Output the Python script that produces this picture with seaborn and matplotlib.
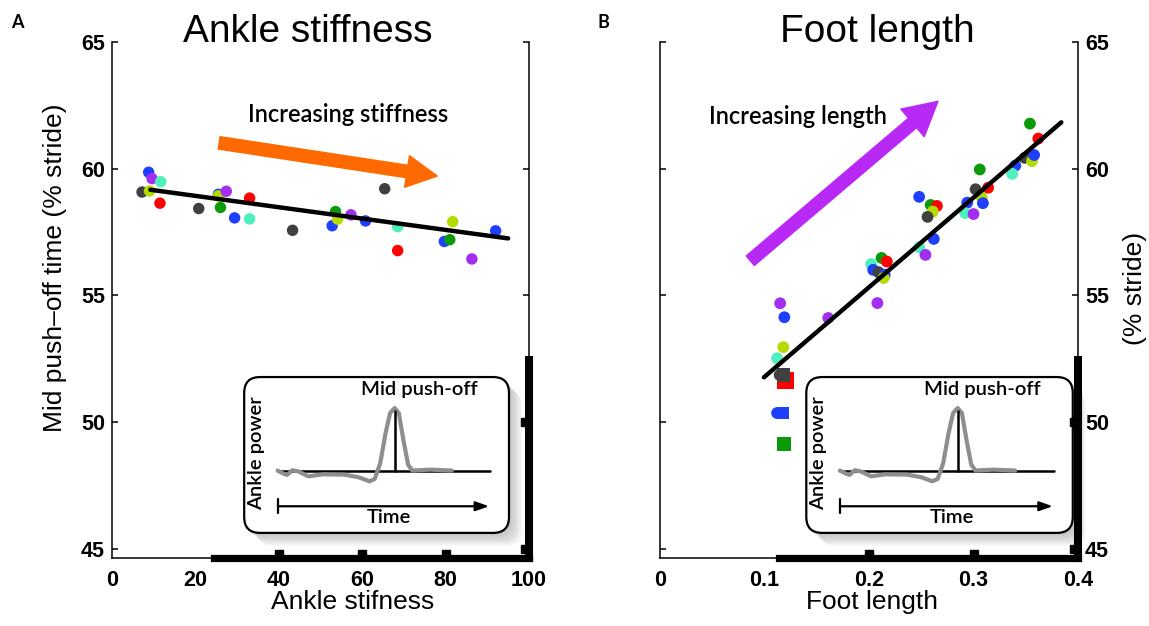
import numpy as np
import pandas as pd
import matplotlib
matplotlib.use("Agg")
import matplotlib.pyplot as plt
import matplotlib.transforms as mtrans
from matplotlib.patches import FancyBboxPatch
import seaborn as sns

# ---------------- data ----------------
stiff_x = [7.2, 8.8, 9.6, 9.0, 11.7, 11.5, 20.8, 26.0, 25.5, 25.5, 27.4, 29.4, 33.0, 33.0,
           43.3, 52.8, 53.6, 54.1, 57.3, 60.8, 65.4, 68.5, 68.5, 79.7, 81.0, 81.7, 86.3, 92.0]
stiff_y = [59.08, 59.86, 59.61, 59.12, 59.49, 58.64, 58.43, 58.47, 58.99, 58.93, 59.11, 58.06,
           58.02, 58.84, 57.57, 57.75, 58.31, 58.01, 58.18, 57.94, 59.21, 57.71, 56.77, 57.13,
           57.20, 57.91, 56.44, 57.55]
stiff_c = ['gray', 'blue', 'purple', 'yg', 'aqua', 'red', 'gray', 'green', 'blue', 'yg',
           'purple', 'blue', 'aqua', 'red', 'gray', 'blue', 'green', 'yg', 'purple', 'blue',
           'gray', 'aqua', 'red', 'blue', 'green', 'yg', 'purple', 'blue']
stiff_fit_x = [9.2, 95.0]
stiff_fit_y = [59.17, 57.25]

foot_x = [0.354, 0.362, 0.349, 0.356, 0.358, 0.340, 0.337, 0.306, 0.302, 0.314, 0.308, 0.309,
          0.294, 0.292, 0.300, 0.248, 0.259, 0.265, 0.261, 0.256, 0.262, 0.248, 0.254, 0.202,
          0.212, 0.217, 0.204, 0.209, 0.215, 0.214, 0.208, 0.115, 0.119, 0.161, 0.118, 0.112,
          0.1145, 0.112]
foot_y = [61.78, 61.19, 60.43, 60.30, 60.54, 60.12, 59.80, 59.97, 59.19, 59.25, 58.86, 58.64,
          58.66, 58.25, 58.21, 58.89, 58.57, 58.53, 58.31, 58.10, 57.23, 56.90, 56.60, 56.24,
          56.48, 56.34, 56.01, 55.92, 55.82, 55.69, 54.70, 54.69, 54.14, 54.11, 52.96, 52.52,
          51.86, 50.36]
foot_c = ['green', 'red', 'gray', 'yg', 'blue', 'blue', 'aqua', 'green', 'gray', 'red', 'yg',
          'blue', 'blue', 'aqua', 'purple', 'blue', 'green', 'red', 'yg', 'gray', 'blue', 'aqua',
          'purple', 'aqua', 'green', 'red', 'blue', 'gray', 'blue', 'yg', 'purple', 'purple',
          'blue', 'purple', 'yg', 'aqua', 'gray', 'blue']
foot_fit_x = [0.0995, 0.384]
foot_fit_y = [51.77, 61.83]

sq_x = [0.120, 0.118, 0.1177, 0.1187]
sq_y = [51.65, 51.86, 50.36, 49.14]
sq_c = ['red', 'gray', 'blue', 'green']
sq_s = [150, 95, 80, 115]

palette = {'gray': '#404040', 'blue': '#1f3fff', 'purple': '#a22ef0', 'yg': '#b4dc00',
           'aqua': '#4ff0bd', 'red': '#ff0000', 'green': '#0a9a0a'}

# inset sketch (normalised box coordinates)
inset_t = [0.126, 0.149, 0.162, 0.182, 0.203, 0.243, 0.297, 0.378, 0.432, 0.473, 0.493, 0.514,
           0.534, 0.551, 0.568, 0.584, 0.601, 0.619, 0.635, 0.703, 0.784]
inset_p = [0.400, 0.380, 0.372, 0.402, 0.395, 0.363, 0.376, 0.374, 0.357, 0.331, 0.346, 0.449,
           0.641, 0.769, 0.801, 0.769, 0.598, 0.438, 0.400, 0.406, 0.400]

# ---------------- style ----------------
sns.set_style("white")
plt.rcParams['font.family'] = ['Liberation Sans', 'DejaVu Sans']
plt.rcParams['axes.linewidth'] = 1.1
for key in ['text.color', 'axes.labelcolor', 'xtick.color', 'ytick.color', 'axes.edgecolor']:
    plt.rcParams[key] = 'black'
ANNOT_FONT = ['Lato', 'DejaVu Sans']
ANNOT_W = 'semibold'
MAIN_W = 'bold'

fig = plt.figure(figsize=(11.49, 6.26), dpi=100)
W, H = 1149, 626
axA = fig.add_axes([112 / W, 1 - 558 / H, 417 / W, 516 / H])
axB = fig.add_axes([660 / W, 1 - 558 / H, 418 / W, 516 / H])

YLIM = (44.64, 65)


def style_axes(ax, xlim, xticks, xticklabels, right_labels):
    ax.set_xlim(*xlim)
    ax.set_ylim(*YLIM)
    ax.set_xticks(xticks)
    ax.set_xticklabels(xticklabels, fontweight=MAIN_W)
    ax.set_yticks([45, 50, 55, 60, 65])
    ax.set_yticklabels(['45', '50', '55', '60', '65'], fontweight=MAIN_W)
    ax.spines['top'].set_visible(False)
    for s in ['left', 'right', 'bottom']:
        ax.spines[s].set_visible(True)
        ax.spines[s].set_color('black')
    ax.tick_params(axis='both', direction='in', length=4, width=1.1, colors='black',
                   labelsize=15.5)
    ax.tick_params(axis='x', pad=9)
    ax.tick_params(axis='y', left=True, right=True, pad=5,
                   labelleft=not right_labels, labelright=right_labels)
    ax.grid(False)


def thick_bars(ax, x0, y0, xticks_sq, yticks_sq):
    xt = ax.get_xaxis_transform()
    yt = ax.get_yaxis_transform()
    ax.plot([x0, ax.get_xlim()[1]], [0, 0], transform=xt, color='black', lw=5.2,
            solid_capstyle='projecting', clip_on=False, zorder=6)
    ax.plot([1, 1], [y0, YLIM[0]], transform=yt, color='black', lw=5.8,
            solid_capstyle='projecting', clip_on=False, zorder=6)
    up = mtrans.offset_copy(xt, fig=fig, y=4, units='dots')
    ax.plot(xticks_sq, [0] * len(xticks_sq), transform=up, ls='none', marker='s', ms=5.8,
            color='black', clip_on=False, zorder=6)
    left = mtrans.offset_copy(yt, fig=fig, x=-4, units='dots')
    ax.plot([1] * len(yticks_sq), yticks_sq, transform=left, ls='none', marker='s', ms=5.8,
            color='black', clip_on=False, zorder=6)


def add_inset(ax, bounds):
    ins = ax.inset_axes(bounds, transform=ax.transData, zorder=4)
    ins.set_xlim(0, 1)
    ins.set_ylim(0, 1)
    ins.axis('off')
    aspect = 265 / 156
    for k in range(1, 13):
        sh = FancyBboxPatch((k * 1.1 / 265, -k * 1.1 / 156), 1, 1,
                            boxstyle='round,pad=0,rounding_size=0.06', mutation_aspect=aspect,
                            fc='#8a8a8a', ec='none', alpha=0.05, transform=ins.transAxes,
                            clip_on=False, zorder=1)
        ins.add_patch(sh)
    box = FancyBboxPatch((0, 0), 1, 1, boxstyle='round,pad=0,rounding_size=0.06',
                         mutation_aspect=aspect, fc='white', ec='black', lw=1.6,
                         transform=ins.transAxes, clip_on=False, zorder=2)
    ins.add_patch(box)
    ins.plot([0.126, 0.928], [0.40, 0.40], color='black', lw=1.8, zorder=3)
    sns.lineplot(x=inset_t, y=inset_p, ax=ins, color='#8e8e8e', lw=3.0, sort=False,
                 estimator=None, zorder=4)
    ins.plot([0.568, 0.568], [0.40, 0.78], color='black', lw=1.8, zorder=5)
    ins.annotate('', xy=(0.925, 0.171), xytext=(0.128, 0.171),
                 arrowprops=dict(arrowstyle='-|>,head_width=0.28,head_length=0.8',
                                 color='black', lw=1.6, shrinkA=0, shrinkB=0), zorder=5)
    ins.plot([0.128, 0.128], [0.125, 0.218], color='black', lw=1.6, zorder=5)
    ins.text(0.547, 0.10, 'Time', ha='center', va='center', fontsize=14.5, family=ANNOT_FONT,
             fontweight=ANNOT_W)
    ins.text(0.045, 0.51, 'Ankle power', ha='center', va='center', rotation=90, fontsize=14.5,
             family=ANNOT_FONT, fontweight=ANNOT_W)
    ins.text(0.662, 0.92, 'Mid push-off', ha='center', va='center', fontsize=14.5,
             family=ANNOT_FONT, fontweight=ANNOT_W)
    return ins


# ---------------- panel A ----------------
dfA = pd.DataFrame({'x': stiff_x, 'y': stiff_y, 'c': stiff_c})
sns.scatterplot(data=dfA, x='x', y='y', hue='c', palette=palette, s=68, linewidth=0,
                legend=False, ax=axA, zorder=3)
sns.lineplot(x=stiff_fit_x, y=stiff_fit_y, ax=axA, color='black', lw=3.2, zorder=4)
style_axes(axA, (0, 100), [0, 20, 40, 60, 80, 100], ['0', '20', '40', '60', '80', '100'], False)
axA.set_xlabel('Ankle stifness', fontsize=19)
axA.set_ylabel('Mid push\u2013off time (% stride)', fontsize=19)
axA.xaxis.set_label_coords(0.576, -0.062)
axA.yaxis.set_label_coords(-0.108, 0.562)
axA.annotate('', xy=(78.0, 59.71), xytext=(25.7, 61.02),
             arrowprops=dict(arrowstyle='simple,head_width=1.15,head_length=1.1,tail_width=0.45',
                             color='#ff6a00', shrinkA=0, shrinkB=0, mutation_scale=20), zorder=3)
axA.text(56.7, 62.12, 'Increasing stiffness', ha='center', va='center', fontsize=17,
         family=ANNOT_FONT, fontweight=ANNOT_W)
axA.text(0.47, 1.0, 'Ankle stiffness', transform=axA.transAxes, ha='center', va='baseline',
         fontsize=28)
fig.text(17 / W, 1 - 22 / H, 'A', ha='center', va='center', fontsize=13, family=ANNOT_FONT,
         fontweight='bold')
thick_bars(axA, 24.5, 52.45, [40, 60, 80], [50, 45])
add_inset(axA, [31.7, 45.63, 63.5, 6.15])

# ---------------- panel B ----------------
dfB = pd.DataFrame({'x': foot_x, 'y': foot_y, 'c': foot_c})
dfSq = pd.DataFrame({'x': sq_x, 'y': sq_y, 'c': sq_c, 's': sq_s})
sns.scatterplot(data=dfB, x='x', y='y', hue='c', palette=palette, s=72, linewidth=0,
                legend=False, ax=axB, zorder=3)
sns.scatterplot(data=dfSq, x='x', y='y', hue='c', palette=palette, size='s',
                sizes={v: v for v in sq_s}, marker='s', linewidth=0, legend=False, ax=axB,
                zorder=3)
sns.lineplot(x=foot_fit_x, y=foot_fit_y, ax=axB, color='black', lw=3.2, zorder=4)
style_axes(axB, (0, 0.4), [0, 0.1, 0.2, 0.3, 0.4], ['0', '0.1', '0.2', '0.3', '0.4'], True)
axB.set_xlabel('Foot length', fontsize=19)
axB.yaxis.set_label_position('right')
axB.set_ylabel('(% stride)', fontsize=19)
axB.xaxis.set_label_coords(0.506, -0.062)
axB.yaxis.set_label_coords(1.108, 0.523)
axB.annotate('', xy=(0.266, 62.66), xytext=(0.0864, 56.37),
             arrowprops=dict(arrowstyle='simple,head_width=1.3,head_length=1.2,tail_width=0.45',
                             color='#b829f5', shrinkA=0, shrinkB=0, mutation_scale=20), zorder=3)
axB.text(0.1316, 62.05, 'Increasing length', ha='center', va='center', fontsize=17,
         family=ANNOT_FONT, fontweight=ANNOT_W)
axB.text(0.52, 1.0, 'Foot length', transform=axB.transAxes, ha='center', va='baseline',
         fontsize=28)
fig.text(603 / W, 1 - 22 / H, 'B', ha='center', va='center', fontsize=13, family=ANNOT_FONT,
         fontweight='bold')
thick_bars(axB, 0.114, 52.45, [0.2, 0.3], [50, 45])
add_inset(axB, [0.140, 45.63, 0.255, 6.15])

fig.savefig('out.png', dpi=100)
